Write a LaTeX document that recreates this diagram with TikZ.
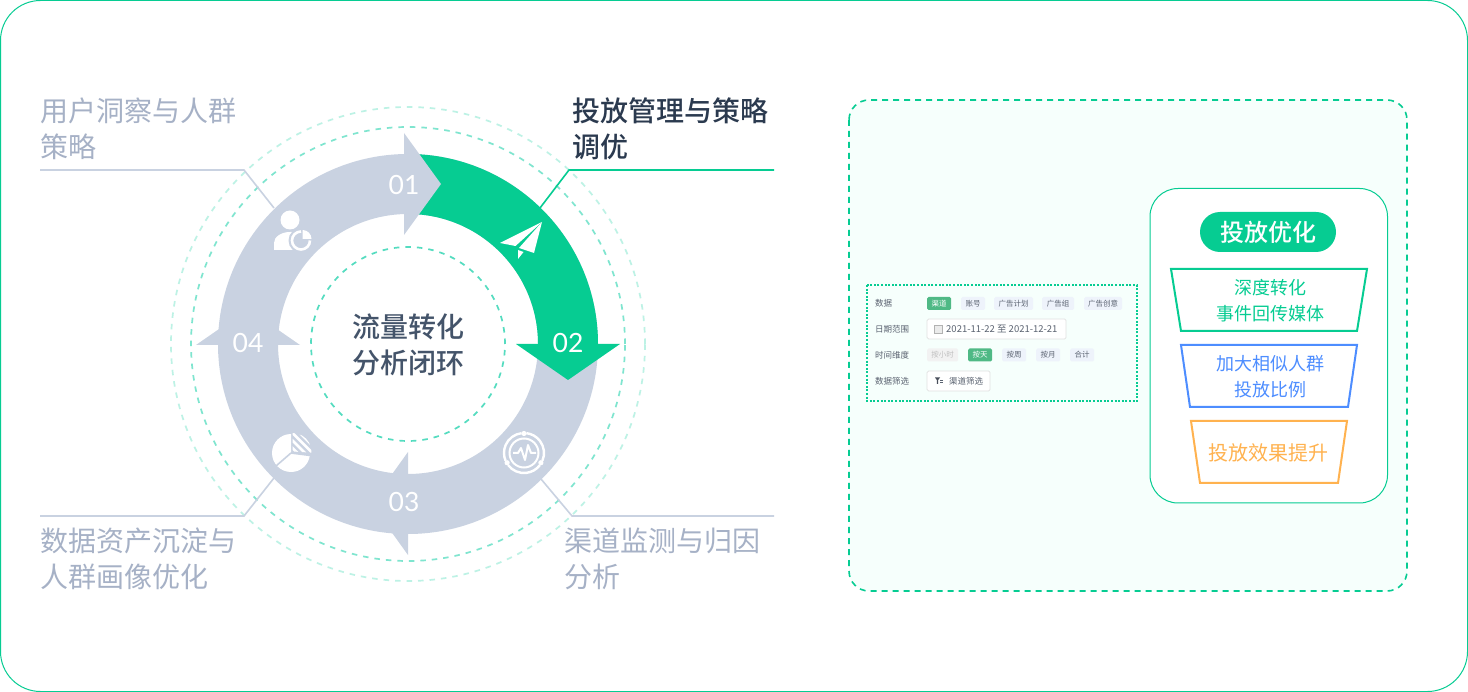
\documentclass[tikz,border=0pt]{standalone}
\usepackage{fontspec}
\setmainfont{Noto Sans CJK SC}
\newfontfamily\cjkmedium{Noto Sans CJK SC Medium}
\newfontfamily\numfont{Lato}
\definecolor{brandgreen}{HTML}{06CC92}
\definecolor{ringgray}{HTML}{C9D2E1}
\definecolor{labelgray}{HTML}{A6B1C6}
\definecolor{darktext}{HTML}{2B3A4F}
\definecolor{centertext}{HTML}{44546A}
\definecolor{panelfill}{HTML}{F6FFFC}
\definecolor{funnelblue}{HTML}{4D8DFF}
\definecolor{funnelorange}{HTML}{FFB24F}
\definecolor{chipfill}{HTML}{EEF3FB}
\definecolor{chipgreen}{HTML}{4FB985}
\definecolor{rowtext}{HTML}{5A6270}
\definecolor{dashouter}{HTML}{BDF2E5}
\definecolor{dashmiddle}{HTML}{7FE5CF}
\definecolor{dashinner}{HTML}{55DCC0}
\tikzset{
    ringnum/.style={text=white,font=\numfont\fontsize{26.5}{27}\selectfont,inner sep=0pt},
    steplabel/.style={anchor=west,align=left,inner sep=0pt,text=labelgray,font=\fontsize{28}{36}\selectfont},
    leader/.style={ringgray,line width=1.6pt},
    ringdash/.style={line width=1.7pt,dash pattern=on 5.5pt off 6pt},
    funnel/.style={line width=2pt,line join=miter},
    funneltext/.style={align=center,inner sep=0pt,font=\fontsize{18}{26}\selectfont},
    rowlabel/.style={anchor=west,inner sep=0pt,text=rowtext,font=\fontsize{8.5}{9}\selectfont},
    chip/.style={rounded corners=1.5pt,inner sep=0pt,minimum height=13pt,fill=chipfill,text=rowtext,font=\fontsize{7.5}{8}\selectfont},
    chipon/.style={chip,fill=chipgreen,text=white},
    chipoff/.style={chip,fill=black!5,text=black!25},
    whitebox/.style={rounded corners=1.5pt,draw=black!12,fill=white,line width=0.7pt}
}
\begin{document}
\begin{tikzpicture}[x=1pt,y=1pt]
    \useasboundingbox (0,-692) rectangle (1468,0);
    % Outer frame
    \draw[brandgreen,line width=1pt,rounded corners=40pt,fill=white] (0.5,-0.5) rectangle (1467.5,-691.5);

    % Dashed circles
    \coordinate (hub) at (408,-344);
    \draw[dashouter,ringdash] (hub) circle (237);
    \draw[dashmiddle,ringdash] (hub) circle (217);
    \draw[dashinner,ringdash] (hub) circle (97);

    % Ring and the green part
    \fill[ringgray,even odd rule] (hub) circle (190) (hub) circle (130);
    \fill[brandgreen] (408,-154) arc (90:0:190) -- (538,-344) arc (0:90:130) -- cycle;

    % Arrow heads
    \fill[ringgray] (404,-133) -- (441,-184) -- (404,-235) -- cycle;
    \fill[brandgreen] (516,-344) -- (620,-344) -- (568,-380) -- cycle;
    \fill[ringgray] (408,-452) -- (371,-503.5) -- (408,-555) -- cycle;
    \fill[ringgray] (196,-345) -- (300,-345) -- (248,-309) -- cycle;

    % Ring numbers
    \node[ringnum] (numa) at (404,-185) {01};
    \node[ringnum] (numb) at (568,-343) {02};
    \node[ringnum] (numc) at (404,-502) {03};
    \node[ringnum] (numd) at (248,-343) {04};
    \node[align=center,inner sep=0pt,text=centertext,font=\cjkmedium\fontsize{28}{36}\selectfont] (hubtext) at (408,-345) {流量转化\\分析闭环};

    % Leader lines
    \coordinate (leadaend) at (274,-208);
    \coordinate (leadbend) at (540,-208);
    \coordinate (leadcend) at (541,-479);
    \coordinate (leaddend) at (274,-478);
    \draw[leader] (40,-170) -- (244,-170) -- (leadaend);
    \draw[brandgreen,line width=1.6pt] (774,-170) -- (569,-170) -- (leadbend);
    \draw[leader] (774,-516) -- (572,-516) -- (leadcend);
    \draw[leader] (40,-516) -- (244,-516) -- (leaddend);

    % Step labels
    \node[steplabel] (labela) at (40,-128.5) {用户洞察与人群\\策略};
    \node[steplabel,text=darktext,font=\cjkmedium\fontsize{28}{36}\selectfont] (labelb) at (572,-128.5) {投放管理与策略\\调优};
    \node[steplabel] (labelc) at (564.5,-558.5) {渠道监测与归因\\分析};
    \node[steplabel] (labeld) at (40,-558.5) {数据资产沉淀与\\人群画像优化};

    % Icon: person with pie
    \fill[white] (290,-220) circle (9.5);
    \fill[white] (274,-250) -- (274,-243) arc (180:90:16 and 11) -- (306,-232) -- (306,-250) -- cycle;
    \fill[ringgray] (301,-240.5) circle (12.5);
    \draw[white,line width=2.6pt] (301,-240.5) ++(90:9) arc (90:360:9);
    \fill[white] (302.5,-239) -- (302.5,-230) arc (90:0:9) -- cycle;

    % Icon: plane
    \fill[white] (542,-222) -- (500,-243) -- (515.5,-246) -- cycle;
    \fill[white] (542,-222) -- (519,-248) -- (534,-253) -- cycle;
    \fill[white] (518,-250) -- (518,-259) -- (523.5,-252) -- cycle;

    % Icon: pie
    \fill[white] (291,-453) -- (291,-434) arc (90:352:19) -- cycle;
    \begin{scope}
        \clip (292.5,-451.5) -- (292.5,-433) arc (90:-2:19) -- cycle;
        \foreach \k in {-24,-16.5,...,20}
            \draw[white,line width=2.6pt] (291+\k,-430) -- (318+\k,-457);
    \end{scope}
    \draw[ringgray,line width=1.6pt] (291,-453) -- (310.5,-455.5);
    \draw[ringgray,line width=1.6pt] (291,-453) -- (276,-466);

    % Icon: monitor
    \coordinate (mon) at (524,-453);
    \draw[white,line width=2pt] (mon) circle (14.5);
    \foreach \a in {97,217,337}
        \draw[white,line width=2.4pt] (mon) ++(\a:20) arc (\a:\a+106:20);
    \foreach \a in {90,210,330}
        \fill[white] (mon) ++(\a:19.5) circle (2.6);
    \draw[white,line width=2pt,line join=round] (513,-453) -- (518,-453) -- (521,-448) -- (525,-460) -- (528,-445) -- (531,-453) -- (536,-453);

    % Right panel
    \draw[brandgreen,fill=panelfill,line width=1.6pt,dash pattern=on 6pt off 5pt,rounded corners=20pt] (849,-100) rectangle (1407,-591);

    % Filter screenshot
    \draw[brandgreen,line width=2pt,dash pattern=on 2pt off 1.6pt] (867,-285) rectangle (1137,-401);
    \foreach \nm/\y/\t in {rowa/303/数据,rowb/329/日期范围,rowc/355/时间维度,rowd/381/数据筛选}
        \node[rowlabel] (\nm) at (875,-\y) {\t};
    \foreach \nm/\xa/\xb/\t/\kind in {qudao/927/951/渠道/chipon,zhanghao/961/985/账号/chip,jihua/994/1033/广告计划/chip,zu/1042/1074/广告组/chip,chuangyi/1084/1122/广告创意/chip}
        \node[\kind,minimum width={\xb pt-\xa pt}] (\nm) at ({(\xa+\xb)/2},-303.5) {\t};
    \foreach \nm/\xa/\xb/\t/\kind in {xiaoshi/927/958/按小时/chipoff,tian/968/992/按天/chipon,zhou/1002/1026/按周/chip,yue/1036/1060/按月/chip,heji/1070/1094/合计/chip}
        \node[\kind,minimum width={\xb pt-\xa pt}] (\nm) at ({(\xa+\xb)/2},-355) {\t};
    \draw[whitebox] (927,-319) rectangle (1066,-339);
    \draw[black!30,fill=black!8,line width=0.6pt] (934.5,-325.5) rectangle (942,-333);
    \node[anchor=west,inner sep=0pt,text=rowtext,font=\fontsize{9.5}{10}\selectfont] (daterange) at (946,-329) {2021-11-22 至 2021-12-21};
    \draw[whitebox] (927,-371) rectangle (990,-391);
    \fill[rowtext!80!black] (935,-377.5) -- (940,-377.5) -- (938.2,-380) -- (938.2,-384) -- (936.8,-384) -- (936.8,-380) -- cycle;
    \draw[rowtext,line width=0.5pt] (940,-380.5) -- (943,-380.5) (940,-382.5) -- (943,-382.5);
    \node[anchor=west,inner sep=0pt,text=rowtext,font=\fontsize{8.5}{9}\selectfont] (filterchip) at (949,-381) {渠道筛选};

    % Optimisation card
    \draw[brandgreen,fill=white,line width=1pt,rounded corners=28pt] (1150,-188.5) rectangle (1387.5,-503);
    \node[fill=brandgreen,text=white,rounded corners=20pt,minimum width=136pt,minimum height=40pt,inner sep=0pt,font=\cjkmedium\fontsize{24}{24}\selectfont] (pill) at (1268,-232) {投放优化};
    \draw[funnel,brandgreen] (1171,-269) -- (1367,-269) -- (1357,-331) -- (1181,-331) -- cycle;
    \draw[funnel,funnelblue] (1181,-345) -- (1357,-345) -- (1348,-407) -- (1190,-407) -- cycle;
    \draw[funnel,funnelorange] (1191,-421) -- (1347,-421) -- (1338,-483) -- (1200,-483) -- cycle;
    \node[funneltext,text=brandgreen] (funnela) at (1270,-301) {深度转化\\事件回传媒体};
    \node[funneltext,text=funnelblue] (funnelb) at (1270,-377) {加大相似人群\\投放比例};
    \node[funneltext,text=funnelorange,font=\fontsize{20}{20}\selectfont] (funnelc) at (1268,-453) {投放效果提升};
\end{tikzpicture}
\end{document}
